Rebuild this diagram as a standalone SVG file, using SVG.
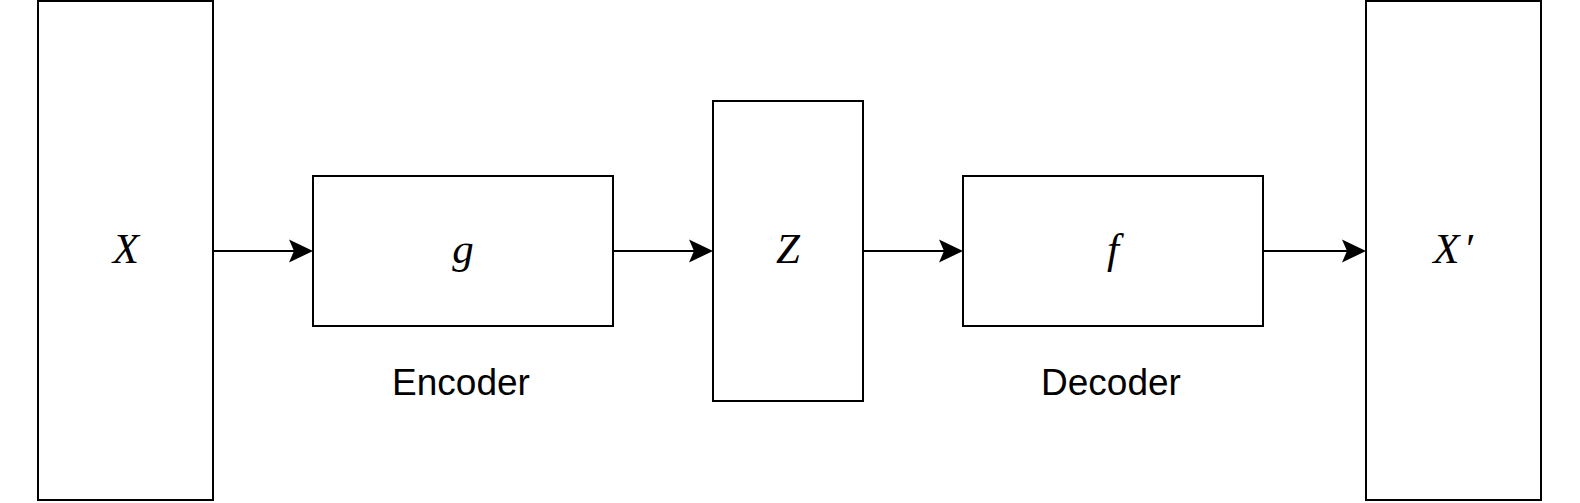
<svg xmlns="http://www.w3.org/2000/svg" width="1580" height="503" viewBox="0 0 1580 503">
  <style>
    .box { fill: #ffffff; stroke: #000000; stroke-width: 2; }
    .edge { fill: none; stroke: #000000; stroke-width: 2; }
    .math { font-family: "Liberation Serif", "Times New Roman", serif; font-style: italic; font-size: 43px; fill: #000000; text-anchor: middle; }
    .label { font-family: "Liberation Sans", Arial, sans-serif; font-size: 37px; fill: #000000; text-anchor: middle; }
  </style>
  <defs>
    <marker id="arrow" viewBox="0 0 24 24" refX="13" refY="12" markerWidth="24" markerHeight="24" markerUnits="userSpaceOnUse" orient="auto">
      <path d="M0,0.5 L24,12 L0,23.5 L5,12 Z" fill="#000000"/>
    </marker>
  </defs>
  <rect width="1580" height="503" fill="#ffffff"/>
  <g id="connectors">
    <line class="edge" x1="213" y1="251" x2="302" y2="251" marker-end="url(#arrow)"/>
    <line class="edge" x1="613" y1="251" x2="702" y2="251" marker-end="url(#arrow)"/>
    <line class="edge" x1="863" y1="251" x2="952" y2="251" marker-end="url(#arrow)"/>
    <line class="edge" x1="1263" y1="251" x2="1355" y2="251" marker-end="url(#arrow)"/>
  </g>
  <g id="node-x">
    <rect class="box" x="38" y="1" width="175" height="499"/>
    <text class="math" x="126" y="263">X</text>
  </g>
  <g id="node-encoder">
    <rect class="box" x="313" y="176" width="300" height="150"/>
    <text class="math" x="463" y="263">g</text>
    <text class="label" x="461" y="395">Encoder</text>
  </g>
  <g id="node-z">
    <rect class="box" x="713" y="101" width="150" height="300"/>
    <text class="math" x="788" y="263">Z</text>
  </g>
  <g id="node-decoder">
    <rect class="box" x="963" y="176" width="300" height="150"/>
    <text class="math" x="1113" y="263">f</text>
    <text class="label" x="1111" y="395">Decoder</text>
  </g>
  <g id="node-xprime">
    <rect class="box" x="1366" y="1" width="175" height="499"/>
    <text class="math" x="1453" y="263">X<tspan dx="4">′</tspan></text>
  </g>
</svg>
